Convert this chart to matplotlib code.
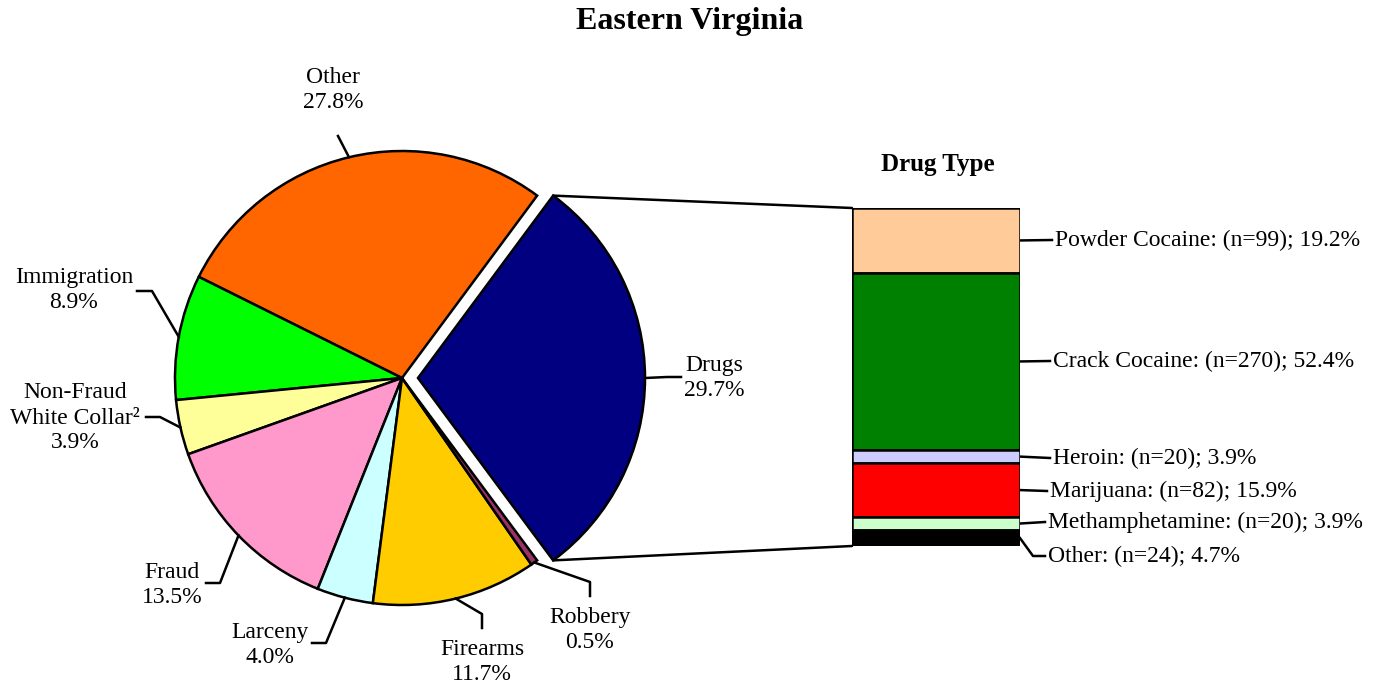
import matplotlib.pyplot as plt
import numpy as np
from matplotlib.patches import ConnectionPatch

plt.rcParams['font.family'] = ['Liberation Serif', 'DejaVu Serif']

offenses = ['Drugs', 'Other', 'Immigration', 'Non-Fraud\nWhite Collar²', 'Fraud', 'Larceny', 'Firearms', 'Robbery']
offense_pct = [29.7, 27.8, 8.9, 3.9, 13.5, 4.0, 11.7, 0.5]
offense_colors = ['#000080', '#FF6600', '#00FF00', '#FFFF99', '#FF99CC', '#CCFFFF', '#FFCC00', '#993366']

drugs = ['Powder Cocaine', 'Crack Cocaine', 'Heroin', 'Marijuana', 'Methamphetamine', 'Other']
drug_n = [99, 270, 20, 82, 20, 24]
drug_pct = [19.2, 52.4, 3.9, 15.9, 3.9, 4.7]
drug_colors = ['#FFCC99', '#008000', '#CCCCFF', '#FF0000', '#CCFFCC', '#000000']

W, H = 1385, 688
fig = plt.figure(figsize=(W / 100, H / 100), dpi=100)
ax = fig.add_axes([0, 0, 1, 1])


def P(x, y):
    return x, H - y


start = -offense_pct[0] / 100 * 360 / 2
wedges, _ = ax.pie(offense_pct, colors=offense_colors, startangle=start, counterclock=True,
                   center=P(402, 378), radius=227, explode=[16, 0, 0, 0, 0, 0, 0, 0],
                   wedgeprops=dict(edgecolor='black', linewidth=1.8))
ax.set_xlim(0, W)
ax.set_ylim(0, H)
ax.axis('off')

# leader lines + labels: (path after wedge anchor, text position)
layout = [
    ([(667, 377), (681, 377)], (714, 378)),
    ([(338, 136)], (333, 90)),
    ([(152, 291), (137, 291)], (74, 290)),
    ([(160, 417), (146, 417)], (75, 418)),
    ([(220, 583), (206, 583)], (172, 585)),
    ([(326, 643), (312, 643)], (270, 645)),
    ([(482, 614), (482, 628)], (482, 662)),
    ([(590, 582), (590, 596)], (590, 630)),
]
for w, name, pct, (path, txt) in zip(wedges, offenses, offense_pct, layout):
    ang = np.deg2rad((w.theta1 + w.theta2) / 2)
    cx, cy = w.center
    xs = [cx + w.r * np.cos(ang)] + [P(*p)[0] for p in path]
    ys = [cy + w.r * np.sin(ang)] + [P(*p)[1] for p in path]
    ax.plot(xs, ys, color='black', lw=1.8)
    ax.text(*P(*txt), f'{name}\n{pct:.1f}%', ha='center', va='center', fontsize=17,
            linespacing=1.25 if '\n' in name else 1.2)

ax.text(*P(690, 22), 'Eastern Virginia', ha='center', va='center', fontsize=23, fontweight='bold')

# stacked bar of drug types
axb = fig.add_axes([852 / W, (H - 546) / H, 168 / W, 338 / H])
bottom = 0
mids = []
for v, c in zip(drug_pct, drug_colors):
    axb.bar(0, v, bottom=bottom, width=1, color=c, edgecolor='black', linewidth=1.8)
    mids.append(bottom + v / 2)
    bottom += v
axb.set_xlim(-0.5, 0.5)
axb.set_ylim(100, 0)
axb.axis('off')
ax.text(*P(938, 165), 'Drug Type', ha='center', va='center', fontsize=18, fontweight='bold')

# bar labels
bar_txt = [(1055, 240), (1053, 361), (1053, 458), (1050, 491), (1048, 522), (1048, 556)]
for name, n, v, m, (tx, ty) in zip(drugs, drug_n, drug_pct, mids, bar_txt):
    bx, by = ax.transData.inverted().transform(axb.transData.transform((0.5, m)))
    if name == 'Other':
        xs = [bx, P(1033, 0)[0], tx - 3]
        ys = [by, P(0, ty)[1], P(0, ty)[1]]
    else:
        xs = [bx, tx - 3]
        ys = [by, P(0, ty)[1]]
    ax.plot(xs, ys, color='black', lw=1.8)
    ax.text(*P(tx, ty), f'{name}: (n={n}); {v:.1f}%', ha='left', va='center', fontsize=17)

# connector lines from exploded wedge to bar
w = wedges[0]
cx, cy = w.center
for th, yb in [(w.theta2, 0), (w.theta1, 100)]:
    a = np.deg2rad(th)
    con = ConnectionPatch(xyA=(cx + w.r * np.cos(a), cy + w.r * np.sin(a)), coordsA=ax.transData,
                          xyB=(-0.5, yb), coordsB=axb.transData, color='black', lw=1.8)
    fig.add_artist(con)

fig.savefig('out.png', dpi=100)
